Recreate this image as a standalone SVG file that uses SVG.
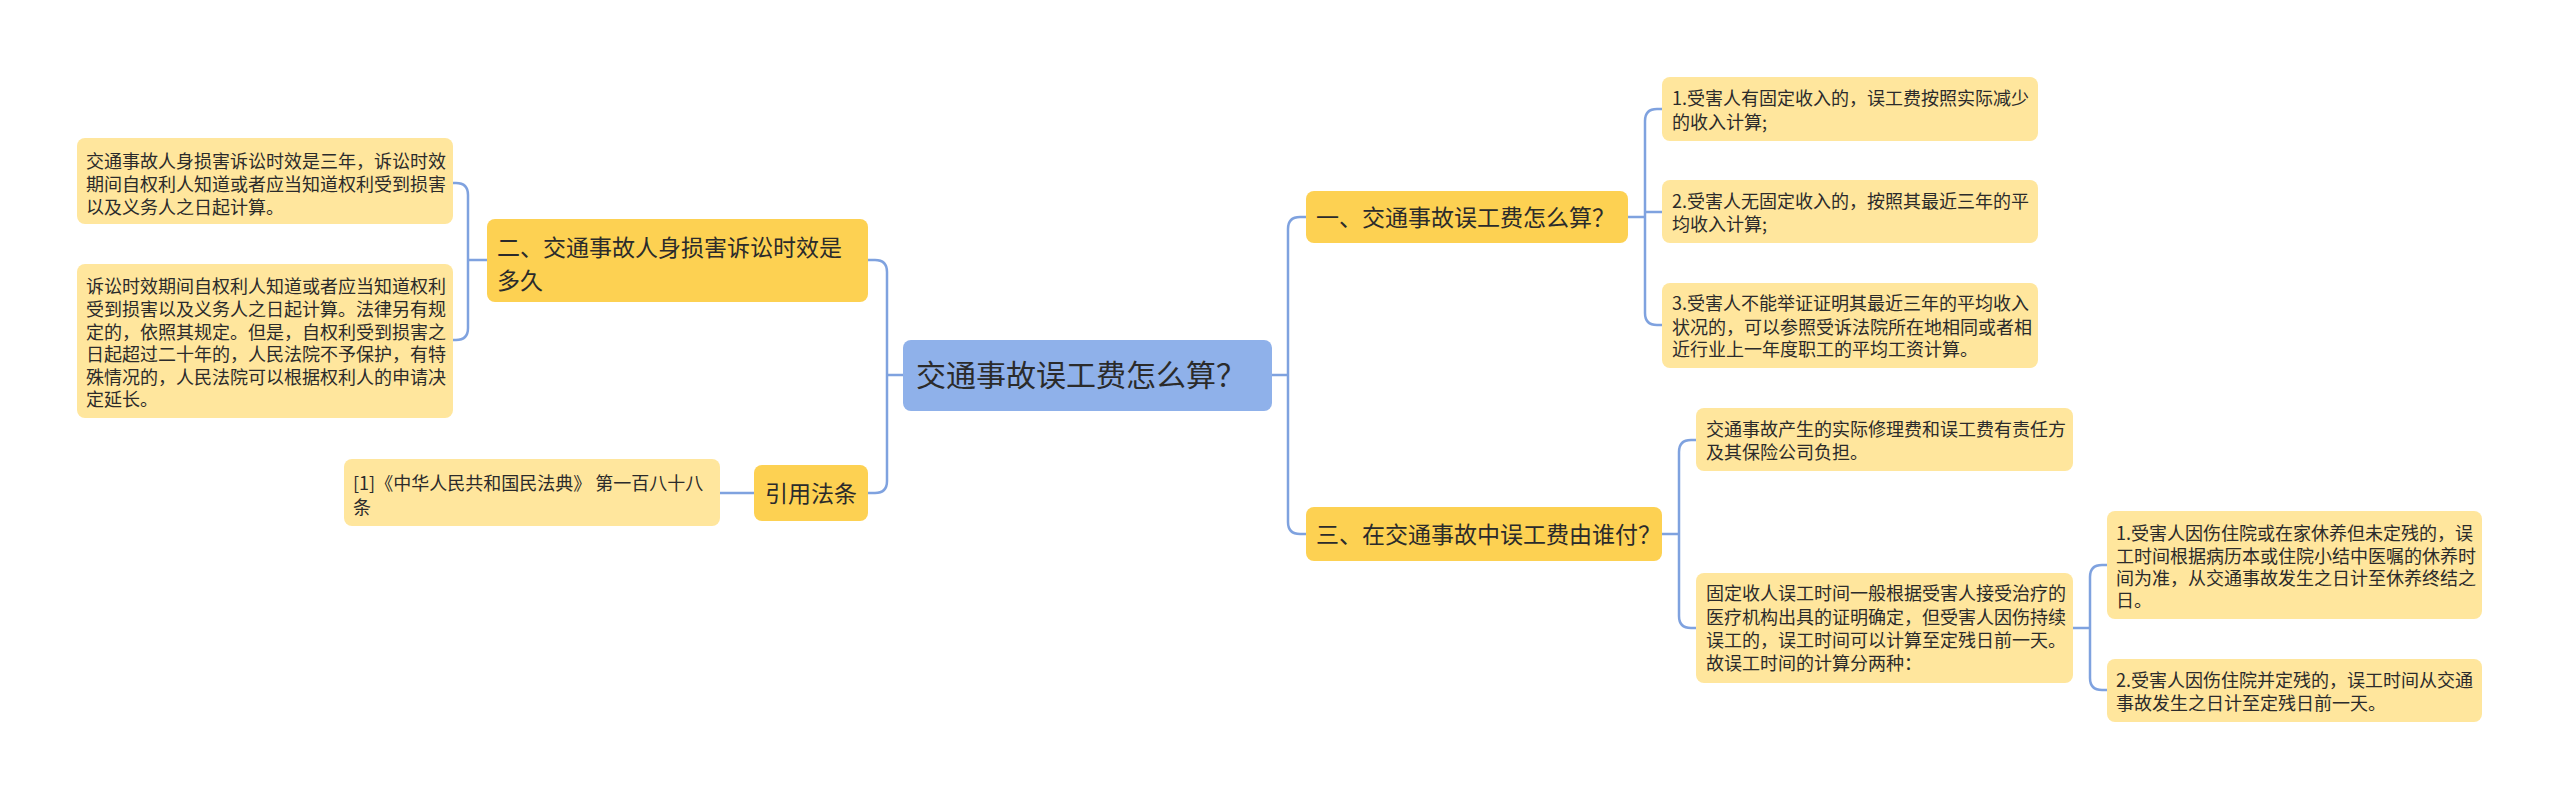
<svg xmlns="http://www.w3.org/2000/svg" width="2560" height="800" viewBox="0 0 2560 800">
<style>
text{font-family:"Noto Sans CJK SC","Noto Sans",sans-serif;fill:#2b2b2b}
.leaf rect{fill:#FFE69D}
.leaf text{font-size:18px}
.branch rect{fill:#FDD152}
.branch text{font-size:23px}
.root rect{fill:#8FB1EA}
.root text{font-size:30px}
#connectors path{fill:none;stroke:#7FA2DF;stroke-width:2.5}
</style>
<rect width="2560" height="800" fill="#ffffff"/>
<g id="connectors">
<path d="M1272,375 H1288"/>
<path d="M1288,375 V229 Q1288,217 1300,217 H1306"/>
<path d="M1288,375 V522 Q1288,534 1300,534 H1306"/>
<path d="M903,375 H887"/>
<path d="M887,375 V272 Q887,260 875,260 H868"/>
<path d="M887,375 V481 Q887,493 875,493 H868"/>
<path d="M487,260 H468"/>
<path d="M468,260 V195 Q468,183 456,183 H453"/>
<path d="M468,260 V328 Q468,340 456,340 H453"/>
<path d="M754,493 H720"/>
<path d="M1628,217 H1645"/>
<path d="M1645,217 V121 Q1645,109 1657,109 H1662"/>
<path d="M1645,212 H1662"/>
<path d="M1645,217 V313 Q1645,325 1657,325 H1662"/>
<path d="M1662,534 H1679"/>
<path d="M1679,534 V452 Q1679,440 1691,440 H1696"/>
<path d="M1679,534 V616 Q1679,628 1691,628 H1696"/>
<path d="M2073,628 H2090"/>
<path d="M2090,628 V577 Q2090,565 2102,565 H2107"/>
<path d="M2090,628 V678 Q2090,690 2102,690 H2107"/>
</g>
<g id="root" class="root">
<rect x="903" y="340" width="369" height="71" rx="8"/>
<text x="916" y="386">交通事故误工费怎么算？</text>
</g>
<g id="b2" class="branch">
<rect x="487" y="219" width="381" height="83" rx="8"/>
<text x="497" y="256">二、交通事故人身损害诉讼时效是</text>
<text x="497" y="289">多久</text>
</g>
<g id="b-ref" class="branch">
<rect x="754" y="465" width="114" height="56" rx="8"/>
<text x="811" y="502" text-anchor="middle">引用法条</text>
</g>
<g id="b1" class="branch">
<rect x="1306" y="191" width="322" height="52" rx="8"/>
<text x="1316" y="226">一、交通事故误工费怎么算？</text>
</g>
<g id="b3" class="branch">
<rect x="1306" y="507" width="356" height="54" rx="8"/>
<text x="1316" y="543">三、在交通事故中误工费由谁付？</text>
</g>
<g id="l2-1" class="leaf">
<rect x="77" y="138" width="376" height="86" rx="8"/>
<text x="86" y="168">交通事故人身损害诉讼时效是三年，诉讼时效</text>
<text x="86" y="191">期间自权利人知道或者应当知道权利受到损害</text>
<text x="86" y="214">以及义务人之日起计算。</text>
</g>
<g id="l2-2" class="leaf">
<rect x="77" y="264" width="376" height="154" rx="8"/>
<text x="86" y="293">诉讼时效期间自权利人知道或者应当知道权利</text>
<text x="86" y="316">受到损害以及义务人之日起计算。法律另有规</text>
<text x="86" y="339">定的，依照其规定。但是，自权利受到损害之</text>
<text x="86" y="361">日起超过二十年的，人民法院不予保护，有特</text>
<text x="86" y="384">殊情况的，人民法院可以根据权利人的申请决</text>
<text x="86" y="406">定延长。</text>
</g>
<g id="l-ref" class="leaf">
<rect x="344" y="459" width="376" height="67" rx="8"/>
<text x="353" y="490">[1]《中华人民共和国民法典》 第一百八十八</text>
<text x="353" y="514">条</text>
</g>
<g id="l1-1" class="leaf">
<rect x="1662" y="77" width="376" height="64" rx="8"/>
<text x="1672" y="105">1.受害人有固定收入的，误工费按照实际减少</text>
<text x="1672" y="129">的收入计算;</text>
</g>
<g id="l1-2" class="leaf">
<rect x="1662" y="180" width="376" height="63" rx="8"/>
<text x="1672" y="208">2.受害人无固定收入的，按照其最近三年的平</text>
<text x="1672" y="231">均收入计算;</text>
</g>
<g id="l1-3" class="leaf">
<rect x="1662" y="283" width="376" height="85" rx="8"/>
<text x="1672" y="310">3.受害人不能举证证明其最近三年的平均收入</text>
<text x="1672" y="334">状况的，可以参照受诉法院所在地相同或者相</text>
<text x="1672" y="356">近行业上一年度职工的平均工资计算。</text>
</g>
<g id="l3-1" class="leaf">
<rect x="1696" y="408" width="377" height="63" rx="8"/>
<text x="1706" y="436">交通事故产生的实际修理费和误工费有责任方</text>
<text x="1706" y="459">及其保险公司负担。</text>
</g>
<g id="l3-2" class="leaf">
<rect x="1696" y="573" width="377" height="110" rx="8"/>
<text x="1706" y="600">固定收人误工时间一般根据受害人接受治疗的</text>
<text x="1706" y="624">医疗机构出具的证明确定，但受害人因伤持续</text>
<text x="1706" y="647">误工的，误工时间可以计算至定残日前一天。</text>
<text x="1706" y="670">故误工时间的计算分两种：</text>
</g>
<g id="l3-2-1" class="leaf">
<rect x="2107" y="511" width="375" height="108" rx="8"/>
<text x="2116" y="540">1.受害人因伤住院或在家休养但未定残的，误</text>
<text x="2116" y="563">工时间根据病历本或住院小结中医嘱的休养时</text>
<text x="2116" y="585">间为准，从交通事故发生之日计至休养终结之</text>
<text x="2116" y="607">日。</text>
</g>
<g id="l3-2-2" class="leaf">
<rect x="2107" y="659" width="375" height="63" rx="8"/>
<text x="2116" y="687">2.受害人因伤住院并定残的，误工时间从交通</text>
<text x="2116" y="710">事故发生之日计至定残日前一天。</text>
</g>
</svg>
